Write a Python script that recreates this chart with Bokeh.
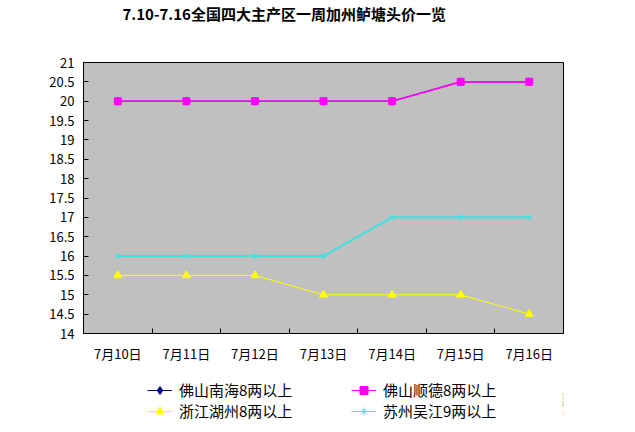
from bokeh.plotting import figure
from bokeh.models import (Legend, LegendItem, FixedTicker, Range1d, Title, Label)
from bokeh.layouts import column
from bokeh.embed import file_html
from bokeh.resources import INLINE

title_text = "7.10-7.16全国四大主产区一周加州鲈塘头价一览"
dates = ["7月10日", "7月11日", "7月12日", "7月13日", "7月14日", "7月15日", "7月16日"]
nanhai = [20, 20, 20, 20, 20, 20.5, 20.5]
shunde = [20, 20, 20, 20, 20, 20.5, 20.5]
huzhou = [15.5, 15.5, 15.5, 15, 15, 15, 14.5]
wujiang = [16, 16, 16, 16, 17, 17, 17]
y_ticks = [14, 14.5, 15, 15.5, 16, 16.5, 17, 17.5, 18, 18.5, 19, 19.5, 20, 20.5, 21]
y_labels = ["14", "14.5", "15", "15.5", "16", "16.5", "17", "17.5", "18", "18.5",
            "19", "19.5", "20", "20.5", "21"]
names = ["佛山南海8两以上", "佛山顺德8两以上", "浙江湖州8两以上", "苏州吴江9两以上"]

FONT = "Noto Sans CJK SC"
xs = [i + 0.5 for i in range(len(dates))]

p = figure(width=635, height=370, output_backend="svg", toolbar_location=None,
           title=None,
           x_range=Range1d(0, len(dates)), y_range=Range1d(14, 21),
           min_border_left=83, min_border_right=72, min_border_top=61,
           min_border_bottom=37, background_fill_color="#C0C0C0",
           border_fill_color="white", outline_line_color="black")
p.grid.visible = False

# spacer first (closest to the frame), then the main title above it
p.add_layout(Title(text=" ", text_font=FONT, text_font_size="15px", standoff=16), "above")
p.add_layout(Title(text=title_text, text_font=FONT, text_font_size="15px",
                   text_font_style="bold", text_color="black", align="left",
                   offset=39, standoff=0), "above")

# axes
p.xaxis.ticker = FixedTicker(ticks=xs, minor_ticks=list(range(1, len(dates))))
p.xaxis.major_label_overrides = {x: d for x, d in zip(xs, dates)}
p.xaxis.major_tick_line_color = None
p.xaxis.major_tick_in = 0
p.xaxis.major_tick_out = 0
p.xaxis.minor_tick_in = 5
p.xaxis.minor_tick_out = 0
p.xaxis.minor_tick_line_color = "black"
p.xaxis.major_label_standoff = 10
p.yaxis.ticker = FixedTicker(ticks=y_ticks)
p.yaxis.major_label_overrides = {t: l for t, l in zip(y_ticks, y_labels)}
p.yaxis.major_tick_in = 5
p.yaxis.major_tick_out = 0
p.yaxis.minor_tick_line_color = None
p.yaxis.major_label_standoff = 9
for ax in (p.xaxis, p.yaxis):
    ax.axis_line_color = "black"
    ax.major_label_text_font = FONT
    ax.major_label_text_font_size = "13px"
    ax.major_label_text_color = "black"

specs = [
    (nanhai, "#000080", "diamond", 8, 1),
    (shunde, "#FF00FF", "square", 7, 1.6),
    (huzhou, "#FFFF00", "triangle", 8, 1),
    (wujiang, "#40E0E0", "asterisk", 6, 2),
]
for (vals, col, mk, sz, lw) in specs:
    p.line(xs, vals, line_color=col, line_width=lw)
    p.scatter(xs, vals, marker=mk, size=sz, fill_color=col, line_color=col)

# legend strip below the chart
p2 = figure(width=635, height=62, output_backend="svg", toolbar_location=None,
            x_range=Range1d(0, len(dates)), y_range=Range1d(0, 1),
            min_border=0, outline_line_color=None, background_fill_color="white",
            border_fill_color="white")
p2.axis.visible = False
p2.grid.visible = False
items = []
for (vals, col, mk, sz, lw), nm in zip(specs, names):
    l = p2.line(xs, vals, line_color=col, line_width=1)
    s = p2.scatter(xs, vals, marker=mk, size=sz, fill_color=col, line_color=col)
    items.append(LegendItem(label=nm, renderers=[l, s]))

common = dict(orientation="horizontal", border_line_color=None, background_fill_alpha=0,
              label_text_font=FONT, label_text_font_size="15px", label_text_color="black",
              glyph_width=25, glyph_height=20, label_standoff=7,
              label_width=165, spacing=7, padding=0, margin=0)
leg1 = Legend(items=[items[0], items[1]], location=(64, 32), **common)
leg2 = Legend(items=[items[2], items[3]], location=(64, 11), **common)
p2.add_layout(leg1, "center")
p2.add_layout(leg2, "center")

# watermark
p2.add_layout(Label(x=478, y=34, x_units="screen", y_units="screen", text="惠农网",
                    text_font=FONT, text_font_size="14px", text_font_style="bold",
                    text_color="#8CC66A", text_baseline="middle"))
p2.add_layout(Label(x=479, y=20, x_units="screen", y_units="screen", text="CNHNB.COM",
                    text_font=FONT, text_font_size="7px", text_color="#F2B84B",
                    text_baseline="middle"))

open("out.html", "w").write(file_html(column(p, p2, spacing=0), INLINE))
